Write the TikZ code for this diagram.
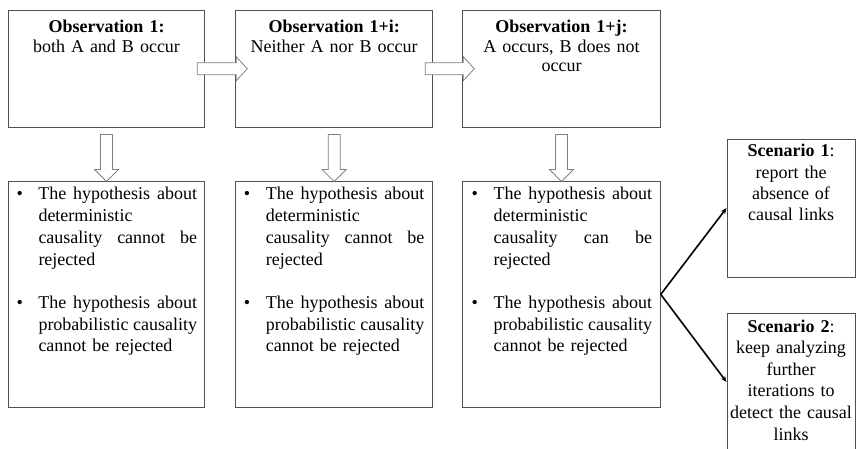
\documentclass[tikz,border=0pt]{standalone}
\usepackage{fontspec}
\setmainfont{Liberation Serif}
\usetikzlibrary{arrows.meta,calc}
\definecolor{boxline}{RGB}{80,80,80}
\definecolor{arrline}{RGB}{128,128,128}
\newcommand{\jthree}[3]{\hbox to 158.5pt{#1\hfill #2\hfill #3}}
\newcommand{\jtwo}[2]{\hbox to 158.5pt{#1\hfill #2}}
\newcommand{\bul}{\makebox[22pt][l]{•}}
\newcommand{\ind}{\hspace*{22pt}}
\begin{document}
\begin{tikzpicture}[x=1pt,y=-1pt,
  obox/.style={draw=boxline, line width=0.9pt, fill=white, inner sep=0pt},
  ttext/.style={inner sep=0pt, text width=190pt, align=center, font=\fontsize{18pt}{19.5pt}\selectfont},
  btext/.style={inner sep=0pt, text width=180.5pt, align=left, font=\fontsize{18pt}{21.7pt}\selectfont},
  stext/.style={inner sep=0pt, text width=128pt, align=center, font=\fontsize{18pt}{21.3pt}\selectfont},
  blockarrow/.style={draw=arrline, line width=0.8pt, fill=white, line join=miter},
  thinarrow/.style={draw=black, line width=1.6pt, -{Stealth[length=6pt,width=5pt]}}]
\useasboundingbox (0,0) rectangle (856,449);
% top boxes
\node[obox, minimum width=196.4pt, minimum height=117.5pt] (o1) at (106.5,68.75) {};
\node[obox, minimum width=197pt, minimum height=117.5pt] (o2) at (334.2,68.75) {};
\node[obox, minimum width=197.6pt, minimum height=117.5pt] (o3) at (561.5,68.75) {};
% bottom boxes
\node[obox, minimum width=196.4pt, minimum height=225.8pt] (b1) at (106.5,294.4) {};
\node[obox, minimum width=197pt, minimum height=225.8pt] (b2) at (334.2,294.4) {};
\node[obox, minimum width=197.6pt, minimum height=225.8pt] (b3) at (561.5,294.4) {};
% scenario boxes
\node[obox, minimum width=128pt, minimum height=138pt] (s1) at (791,208) {};
\node[obox, minimum width=128pt, minimum height=138pt] (s2) at (791,382) {};
% top texts
\node[ttext, anchor=base] (t1) at (106.5,33) {\textbf{Observation 1:}\\both A and B occur};
\node[ttext, anchor=base] (t2) at (334.2,33) {\textbf{Observation 1+i:}\\Neither A nor B occur};
\node[ttext, anchor=base] (t3) at (561.5,33) {\textbf{Observation 1+j:}\\A occurs, B does not\\occur};
% bottom texts
\node[btext, anchor=base west] (x1) at (16.3,200) {\bul\jthree{The}{hypothesis}{about}\\\ind deterministic\\\ind\jthree{causality}{cannot}{be}\\\ind rejected\\[21.7pt]\bul\jthree{The}{hypothesis}{about}\\\ind\jtwo{probabilistic}{causality}\\\ind cannot be rejected};
\node[btext, anchor=base west] (x2) at (243.7,200) {\bul\jthree{The}{hypothesis}{about}\\\ind deterministic\\\ind\jthree{causality}{cannot}{be}\\\ind rejected\\[21.7pt]\bul\jthree{The}{hypothesis}{about}\\\ind\jtwo{probabilistic}{causality}\\\ind cannot be rejected};
\node[btext, anchor=base west] (x3) at (471.5,200) {\bul\jthree{The}{hypothesis}{about}\\\ind deterministic\\\ind\jthree{causality}{can}{be}\\\ind rejected\\[21.7pt]\bul\jthree{The}{hypothesis}{about}\\\ind\jtwo{probabilistic}{causality}\\\ind cannot be rejected};
% scenario texts
\node[stext, anchor=base] (y1) at (791,157) {\textbf{Scenario 1}:\\report the\\absence of\\causal links};
\node[stext, anchor=base, font=\fontsize{18pt}{21.6pt}\selectfont] (y2) at (791,332) {\textbf{Scenario 2}:\\keep analyzing\\further\\iterations to\\detect the causal\\links};
% horizontal block arrows
\draw[blockarrow] ($(o1.east)+(-8,-6)$) -- ($(o2.west)+(1,-6)$) -- ($(o2.west)+(1,-12)$) -- ($(o2.west)+(12,0)$) -- ($(o2.west)+(1,12)$) -- ($(o2.west)+(1,6)$) -- ($(o1.east)+(-8,6)$) -- cycle;
\draw[blockarrow] ($(o2.east)+(-8,-6)$) -- ($(o3.west)+(1,-6)$) -- ($(o3.west)+(1,-12)$) -- ($(o3.west)+(12,0)$) -- ($(o3.west)+(1,12)$) -- ($(o3.west)+(1,6)$) -- ($(o2.east)+(-8,6)$) -- cycle;
% down block arrows
\foreach \a/\b in {o1/b1,o2/b2,o3/b3}{
  \draw[blockarrow] ($(\a.south)+(-6,6.5)$) -- ($(\b.north)+(-6,-11.5)$) -- ($(\b.north)+(-12,-11.5)$) -- ($(\b.north)+(0,0.5)$) -- ($(\b.north)+(12,-11.5)$) -- ($(\b.north)+(6,-11.5)$) -- ($(\a.south)+(6,6.5)$) -- cycle;
}
% diagonal arrows
\draw[thinarrow] (b3.east) -- (s1.west);
\draw[thinarrow] (b3.east) -- (s2.west);
\end{tikzpicture}
\end{document}
